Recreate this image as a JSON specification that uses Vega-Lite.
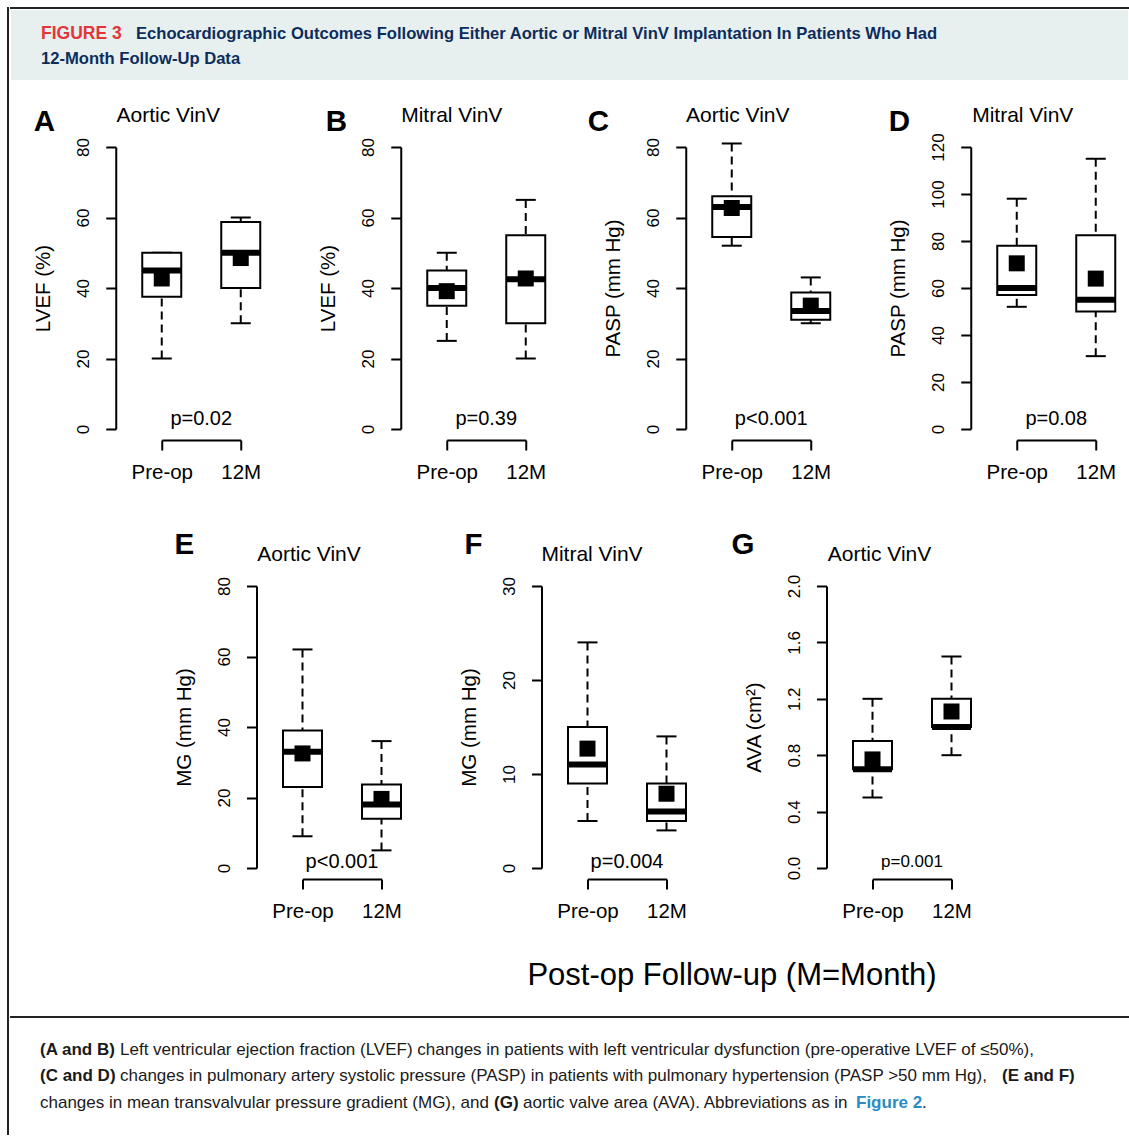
{
  "$schema": "https://vega.github.io/schema/vega-lite/v6.json",
  "padding": {"left": 7, "top": 7, "right": 0, "bottom": 0},
  "background": "white",
  "spacing": 0,
  "hconcat": [
    {"width": 0.001, "height": 1126, "data": {"values": []}, "mark": "point", "view": {"stroke": "#222", "strokeWidth": 2}},
    {
      "spacing": 0,
      "vconcat": [
        {"width": 1117, "height": 0.001, "data": {"values": []}, "mark": "point", "view": {"stroke": "#222", "strokeWidth": 2}},
        {
          "width": 1117, "height": 70,
          "view": {"fill": "#e8f0ef", "stroke": null},
          "data": {"values": [
            {"line": 1, "run": "fig", "text": "FIGURE 3"},
            {"line": 1, "run": "t1", "text": "Echocardiographic Outcomes Following Either Aortic or Mitral VinV Implantation In Patients Who Had"},
            {"line": 2, "run": "t2", "text": "12-Month Follow-Up Data"}
          ]},
          "encoding": {
            "x": {"datum": 0, "type": "quantitative", "scale": {"domain": [0, 1]}, "axis": null},
            "y": {"field": "line", "type": "ordinal", "scale": {"type": "point", "padding": 0.9}, "axis": null},
            "text": {"field": "text"}
          },
          "layer": [
            {"transform": [{"filter": "datum.run === 'fig'"}], "mark": {"type": "text", "align": "left", "baseline": "middle", "dx": 30, "dy": 1.5, "fontSize": 17.5, "fontWeight": "bold", "color": "#e2363a"}},
            {"transform": [{"filter": "datum.run === 't1'"}], "mark": {"type": "text", "align": "left", "baseline": "middle", "dx": 125, "dy": 1.5, "fontSize": 16.6, "fontWeight": "bold", "color": "#0c2d5c"}},
            {"transform": [{"filter": "datum.run === 't2'"}], "mark": {"type": "text", "align": "left", "baseline": "middle", "dx": 30, "dy": 1.5, "fontSize": 16.6, "fontWeight": "bold", "color": "#0c2d5c"}}
          ]
        },
        {"width": 0.001, "height": 25, "data": {"values": []}, "mark": "point"},
        {
          "spacing": 21.75,
          "hconcat": [
            {"width": 0.001, "height": 383, "data": {"values": []}, "mark": "point"},
            {
              "spacing": 206,
              "bounds": "flush",
              "hconcat": [
                {
                  "width": 79, "height": 282,
                  "data": {"values": [
                    {"time": "Pre-op", "lo": 20, "q1": 37.5, "med": 45, "q3": 50, "hi": 50, "mean": 42.7},
                    {"time": "12M", "lo": 30, "q1": 40, "med": 50, "q3": 58.7, "hi": 60, "mean": 48.5}
                  ]},
                  "encoding": {"x": {"field": "time", "type": "nominal", "scale": {"type": "point", "domain": ["Pre-op", "12M"], "padding": 0}, "axis": {"title": null}}},
                  "layer": [
                    {"mark": {"type": "rule", "strokeDash": [8, 5], "strokeWidth": 2, "color": "#000"}, "encoding": {"y": {"field": "hi", "type": "quantitative", "scale": {"domain": [0, 80], "nice": false, "zero": false}, "axis": {"title": "LVEF (%)", "values": [0, 20, 40, 60, 80]}}, "y2": {"field": "q3"}}},
                    {"mark": {"type": "rule", "strokeDash": [8, 5], "strokeWidth": 2, "color": "#000"}, "encoding": {"y": {"field": "lo", "type": "quantitative"}, "y2": {"field": "q1"}}},
                    {"mark": {"type": "tick", "orient": "horizontal", "size": 20, "thickness": 2, "color": "#000", "opacity": 1}, "encoding": {"y": {"field": "hi", "type": "quantitative"}}},
                    {"mark": {"type": "tick", "orient": "horizontal", "size": 20, "thickness": 2, "color": "#000", "opacity": 1}, "encoding": {"y": {"field": "lo", "type": "quantitative"}}},
                    {"mark": {"type": "bar", "width": 39, "fill": "#fff", "stroke": "#000", "strokeWidth": 2, "opacity": 1}, "encoding": {"y": {"field": "q1", "type": "quantitative"}, "y2": {"field": "q3"}}},
                    {"mark": {"type": "tick", "orient": "horizontal", "size": 39, "thickness": 6, "color": "#000", "opacity": 1}, "encoding": {"y": {"field": "med", "type": "quantitative"}}},
                    {"mark": {"type": "point", "shape": "square", "size": 256, "filled": true, "color": "#000", "opacity": 1}, "encoding": {"y": {"field": "mean", "type": "quantitative"}}},
                    {"data": {"values": [{"label": "Aortic VinV"}]}, "mark": {"type": "text", "fontSize": 21, "align": "center", "baseline": "alphabetic", "dx": 6.5, "dy": -25, "color": "#000"}, "encoding": {"text": {"field": "label"}, "x": {"datum": "Pre-op"}, "y": {"datum": 80}}},
                    {"data": {"values": [{"panel": "A"}]}, "mark": {"type": "text", "fontSize": 29.5, "fontWeight": "bold", "align": "left", "baseline": "alphabetic", "dx": -128, "dy": -16, "color": "#000"}, "encoding": {"text": {"field": "panel"}, "x": {"datum": "Pre-op"}, "y": {"datum": 80}}},
                    {"data": {"values": [{"p": "p=0.02"}]}, "mark": {"type": "text", "fontSize": 20, "align": "center", "baseline": "middle", "dx": 39.5, "dy": -10, "color": "#000"}, "encoding": {"text": {"field": "p"}, "x": {"datum": "Pre-op"}, "y": {"datum": 0}}}
                  ]
                },
                {
                  "width": 79, "height": 282,
                  "data": {"values": [
                    {"time": "Pre-op", "lo": 25, "q1": 35, "med": 40, "q3": 45, "hi": 50, "mean": 39.1},
                    {"time": "12M", "lo": 20, "q1": 30, "med": 42.5, "q3": 55, "hi": 65, "mean": 42.7}
                  ]},
                  "encoding": {"x": {"field": "time", "type": "nominal", "scale": {"type": "point", "domain": ["Pre-op", "12M"], "padding": 0}, "axis": {"title": null}}},
                  "layer": [
                    {"mark": {"type": "rule", "strokeDash": [8, 5], "strokeWidth": 2, "color": "#000"}, "encoding": {"y": {"field": "hi", "type": "quantitative", "scale": {"domain": [0, 80], "nice": false, "zero": false}, "axis": {"title": "LVEF (%)", "values": [0, 20, 40, 60, 80]}}, "y2": {"field": "q3"}}},
                    {"mark": {"type": "rule", "strokeDash": [8, 5], "strokeWidth": 2, "color": "#000"}, "encoding": {"y": {"field": "lo", "type": "quantitative"}, "y2": {"field": "q1"}}},
                    {"mark": {"type": "tick", "orient": "horizontal", "size": 20, "thickness": 2, "color": "#000", "opacity": 1}, "encoding": {"y": {"field": "hi", "type": "quantitative"}}},
                    {"mark": {"type": "tick", "orient": "horizontal", "size": 20, "thickness": 2, "color": "#000", "opacity": 1}, "encoding": {"y": {"field": "lo", "type": "quantitative"}}},
                    {"mark": {"type": "bar", "width": 39, "fill": "#fff", "stroke": "#000", "strokeWidth": 2, "opacity": 1}, "encoding": {"y": {"field": "q1", "type": "quantitative"}, "y2": {"field": "q3"}}},
                    {"mark": {"type": "tick", "orient": "horizontal", "size": 39, "thickness": 6, "color": "#000", "opacity": 1}, "encoding": {"y": {"field": "med", "type": "quantitative"}}},
                    {"mark": {"type": "point", "shape": "square", "size": 256, "filled": true, "color": "#000", "opacity": 1}, "encoding": {"y": {"field": "mean", "type": "quantitative"}}},
                    {"data": {"values": [{"label": "Mitral VinV"}]}, "mark": {"type": "text", "fontSize": 21, "align": "center", "baseline": "alphabetic", "dx": 5, "dy": -25, "color": "#000"}, "encoding": {"text": {"field": "label"}, "x": {"datum": "Pre-op"}, "y": {"datum": 80}}},
                    {"data": {"values": [{"panel": "B"}]}, "mark": {"type": "text", "fontSize": 29.5, "fontWeight": "bold", "align": "left", "baseline": "alphabetic", "dx": -121, "dy": -16, "color": "#000"}, "encoding": {"text": {"field": "panel"}, "x": {"datum": "Pre-op"}, "y": {"datum": 80}}},
                    {"data": {"values": [{"p": "p=0.39"}]}, "mark": {"type": "text", "fontSize": 20, "align": "center", "baseline": "middle", "dx": 39.5, "dy": -10, "color": "#000"}, "encoding": {"text": {"field": "p"}, "x": {"datum": "Pre-op"}, "y": {"datum": 0}}}
                  ]
                },
                {
                  "width": 79, "height": 282,
                  "data": {"values": [
                    {"time": "Pre-op", "lo": 52, "q1": 54.5, "med": 63, "q3": 66, "hi": 81, "mean": 62.7},
                    {"time": "12M", "lo": 30, "q1": 31, "med": 33.5, "q3": 38.7, "hi": 43, "mean": 35}
                  ]},
                  "encoding": {"x": {"field": "time", "type": "nominal", "scale": {"type": "point", "domain": ["Pre-op", "12M"], "padding": 0}, "axis": {"title": null}}},
                  "layer": [
                    {"mark": {"type": "rule", "strokeDash": [8, 5], "strokeWidth": 2, "color": "#000"}, "encoding": {"y": {"field": "hi", "type": "quantitative", "scale": {"domain": [0, 80], "nice": false, "zero": false}, "axis": {"title": "PASP (mm Hg)", "values": [0, 20, 40, 60, 80]}}, "y2": {"field": "q3"}}},
                    {"mark": {"type": "rule", "strokeDash": [8, 5], "strokeWidth": 2, "color": "#000"}, "encoding": {"y": {"field": "lo", "type": "quantitative"}, "y2": {"field": "q1"}}},
                    {"mark": {"type": "tick", "orient": "horizontal", "size": 20, "thickness": 2, "color": "#000", "opacity": 1}, "encoding": {"y": {"field": "hi", "type": "quantitative"}}},
                    {"mark": {"type": "tick", "orient": "horizontal", "size": 20, "thickness": 2, "color": "#000", "opacity": 1}, "encoding": {"y": {"field": "lo", "type": "quantitative"}}},
                    {"mark": {"type": "bar", "width": 39, "fill": "#fff", "stroke": "#000", "strokeWidth": 2, "opacity": 1}, "encoding": {"y": {"field": "q1", "type": "quantitative"}, "y2": {"field": "q3"}}},
                    {"mark": {"type": "tick", "orient": "horizontal", "size": 39, "thickness": 6, "color": "#000", "opacity": 1}, "encoding": {"y": {"field": "med", "type": "quantitative"}}},
                    {"mark": {"type": "point", "shape": "square", "size": 256, "filled": true, "color": "#000", "opacity": 1}, "encoding": {"y": {"field": "mean", "type": "quantitative"}}},
                    {"data": {"values": [{"label": "Aortic VinV"}]}, "mark": {"type": "text", "fontSize": 21, "align": "center", "baseline": "alphabetic", "dx": 6, "dy": -25, "color": "#000"}, "encoding": {"text": {"field": "label"}, "x": {"datum": "Pre-op"}, "y": {"datum": 80}}},
                    {"data": {"values": [{"panel": "C"}]}, "mark": {"type": "text", "fontSize": 29.5, "fontWeight": "bold", "align": "left", "baseline": "alphabetic", "dx": -144, "dy": -16, "color": "#000"}, "encoding": {"text": {"field": "panel"}, "x": {"datum": "Pre-op"}, "y": {"datum": 80}}},
                    {"data": {"values": [{"p": "p<0.001"}]}, "mark": {"type": "text", "fontSize": 20, "align": "center", "baseline": "middle", "dx": 39.5, "dy": -10, "color": "#000"}, "encoding": {"text": {"field": "p"}, "x": {"datum": "Pre-op"}, "y": {"datum": 0}}}
                  ]
                },
                {
                  "width": 79, "height": 282,
                  "data": {"values": [
                    {"time": "Pre-op", "lo": 52, "q1": 57, "med": 60, "q3": 78, "hi": 98, "mean": 70.5},
                    {"time": "12M", "lo": 31, "q1": 50, "med": 55, "q3": 82.5, "hi": 115, "mean": 64}
                  ]},
                  "encoding": {"x": {"field": "time", "type": "nominal", "scale": {"type": "point", "domain": ["Pre-op", "12M"], "padding": 0}, "axis": {"title": null}}},
                  "layer": [
                    {"mark": {"type": "rule", "strokeDash": [8, 5], "strokeWidth": 2, "color": "#000"}, "encoding": {"y": {"field": "hi", "type": "quantitative", "scale": {"domain": [0, 120], "nice": false, "zero": false}, "axis": {"title": "PASP (mm Hg)", "values": [0, 20, 40, 60, 80, 100, 120]}}, "y2": {"field": "q3"}}},
                    {"mark": {"type": "rule", "strokeDash": [8, 5], "strokeWidth": 2, "color": "#000"}, "encoding": {"y": {"field": "lo", "type": "quantitative"}, "y2": {"field": "q1"}}},
                    {"mark": {"type": "tick", "orient": "horizontal", "size": 20, "thickness": 2, "color": "#000", "opacity": 1}, "encoding": {"y": {"field": "hi", "type": "quantitative"}}},
                    {"mark": {"type": "tick", "orient": "horizontal", "size": 20, "thickness": 2, "color": "#000", "opacity": 1}, "encoding": {"y": {"field": "lo", "type": "quantitative"}}},
                    {"mark": {"type": "bar", "width": 39, "fill": "#fff", "stroke": "#000", "strokeWidth": 2, "opacity": 1}, "encoding": {"y": {"field": "q1", "type": "quantitative"}, "y2": {"field": "q3"}}},
                    {"mark": {"type": "tick", "orient": "horizontal", "size": 39, "thickness": 6, "color": "#000", "opacity": 1}, "encoding": {"y": {"field": "med", "type": "quantitative"}}},
                    {"mark": {"type": "point", "shape": "square", "size": 256, "filled": true, "color": "#000", "opacity": 1}, "encoding": {"y": {"field": "mean", "type": "quantitative"}}},
                    {"data": {"values": [{"label": "Mitral VinV"}]}, "mark": {"type": "text", "fontSize": 21, "align": "center", "baseline": "alphabetic", "dx": 6, "dy": -25, "color": "#000"}, "encoding": {"text": {"field": "label"}, "x": {"datum": "Pre-op"}, "y": {"datum": 120}}},
                    {"data": {"values": [{"panel": "D"}]}, "mark": {"type": "text", "fontSize": 29.5, "fontWeight": "bold", "align": "left", "baseline": "alphabetic", "dx": -128, "dy": -16, "color": "#000"}, "encoding": {"text": {"field": "panel"}, "x": {"datum": "Pre-op"}, "y": {"datum": 120}}},
                    {"data": {"values": [{"p": "p=0.08"}]}, "mark": {"type": "text", "fontSize": 20, "align": "center", "baseline": "middle", "dx": 39.5, "dy": -10, "color": "#000"}, "encoding": {"text": {"field": "p"}, "x": {"datum": "Pre-op"}, "y": {"datum": 0}}}
                  ]
                }
              ]
            }
          ]
        },
        {
          "spacing": 162.5,
          "hconcat": [
            {"width": 0.001, "height": 430, "data": {"values": []}, "mark": "point"},
            {
              "spacing": 206,
              "bounds": "flush",
              "hconcat": [
                {
                  "width": 79, "height": 282,
                  "data": {"values": [
                    {"time": "Pre-op", "lo": 9, "q1": 23, "med": 33, "q3": 39, "hi": 62, "mean": 32.5},
                    {"time": "12M", "lo": 5, "q1": 14, "med": 18, "q3": 23.7, "hi": 36, "mean": 19.6}
                  ]},
                  "encoding": {"x": {"field": "time", "type": "nominal", "scale": {"type": "point", "domain": ["Pre-op", "12M"], "padding": 0}, "axis": {"title": null}}},
                  "layer": [
                    {"mark": {"type": "rule", "strokeDash": [8, 5], "strokeWidth": 2, "color": "#000"}, "encoding": {"y": {"field": "hi", "type": "quantitative", "scale": {"domain": [0, 80], "nice": false, "zero": false}, "axis": {"title": "MG (mm Hg)", "values": [0, 20, 40, 60, 80]}}, "y2": {"field": "q3"}}},
                    {"mark": {"type": "rule", "strokeDash": [8, 5], "strokeWidth": 2, "color": "#000"}, "encoding": {"y": {"field": "lo", "type": "quantitative"}, "y2": {"field": "q1"}}},
                    {"mark": {"type": "tick", "orient": "horizontal", "size": 20, "thickness": 2, "color": "#000", "opacity": 1}, "encoding": {"y": {"field": "hi", "type": "quantitative"}}},
                    {"mark": {"type": "tick", "orient": "horizontal", "size": 20, "thickness": 2, "color": "#000", "opacity": 1}, "encoding": {"y": {"field": "lo", "type": "quantitative"}}},
                    {"mark": {"type": "bar", "width": 39, "fill": "#fff", "stroke": "#000", "strokeWidth": 2, "opacity": 1}, "encoding": {"y": {"field": "q1", "type": "quantitative"}, "y2": {"field": "q3"}}},
                    {"mark": {"type": "tick", "orient": "horizontal", "size": 39, "thickness": 6, "color": "#000", "opacity": 1}, "encoding": {"y": {"field": "med", "type": "quantitative"}}},
                    {"mark": {"type": "point", "shape": "square", "size": 256, "filled": true, "color": "#000", "opacity": 1}, "encoding": {"y": {"field": "mean", "type": "quantitative"}}},
                    {"data": {"values": [{"label": "Aortic VinV"}]}, "mark": {"type": "text", "fontSize": 21, "align": "center", "baseline": "alphabetic", "dx": 6.5, "dy": -25, "color": "#000"}, "encoding": {"text": {"field": "label"}, "x": {"datum": "Pre-op"}, "y": {"datum": 80}}},
                    {"data": {"values": [{"panel": "E"}]}, "mark": {"type": "text", "fontSize": 29.5, "fontWeight": "bold", "align": "left", "baseline": "alphabetic", "dx": -128, "dy": -32, "color": "#000"}, "encoding": {"text": {"field": "panel"}, "x": {"datum": "Pre-op"}, "y": {"datum": 80}}},
                    {"data": {"values": [{"p": "p<0.001"}]}, "mark": {"type": "text", "fontSize": 20, "align": "center", "baseline": "middle", "dx": 39.5, "dy": -6, "color": "#000"}, "encoding": {"text": {"field": "p"}, "x": {"datum": "Pre-op"}, "y": {"datum": 0}}}
                  ]
                },
                {
                  "width": 79, "height": 282,
                  "data": {"values": [
                    {"time": "Pre-op", "lo": 5, "q1": 9, "med": 11, "q3": 15, "hi": 24, "mean": 12.7},
                    {"time": "12M", "lo": 4, "q1": 5, "med": 6, "q3": 9, "hi": 14, "mean": 7.9}
                  ]},
                  "encoding": {"x": {"field": "time", "type": "nominal", "scale": {"type": "point", "domain": ["Pre-op", "12M"], "padding": 0}, "axis": {"title": "Post-op Follow-up (M=Month)", "titleFontSize": 31, "titleX": 144, "titlePadding": 39, "titleFontWeight": "normal", "titleAlign": "center"}}},
                  "layer": [
                    {"mark": {"type": "rule", "strokeDash": [8, 5], "strokeWidth": 2, "color": "#000"}, "encoding": {"y": {"field": "hi", "type": "quantitative", "scale": {"domain": [0, 30], "nice": false, "zero": false}, "axis": {"title": "MG (mm Hg)", "values": [0, 10, 20, 30]}}, "y2": {"field": "q3"}}},
                    {"mark": {"type": "rule", "strokeDash": [8, 5], "strokeWidth": 2, "color": "#000"}, "encoding": {"y": {"field": "lo", "type": "quantitative"}, "y2": {"field": "q1"}}},
                    {"mark": {"type": "tick", "orient": "horizontal", "size": 20, "thickness": 2, "color": "#000", "opacity": 1}, "encoding": {"y": {"field": "hi", "type": "quantitative"}}},
                    {"mark": {"type": "tick", "orient": "horizontal", "size": 20, "thickness": 2, "color": "#000", "opacity": 1}, "encoding": {"y": {"field": "lo", "type": "quantitative"}}},
                    {"mark": {"type": "bar", "width": 39, "fill": "#fff", "stroke": "#000", "strokeWidth": 2, "opacity": 1}, "encoding": {"y": {"field": "q1", "type": "quantitative"}, "y2": {"field": "q3"}}},
                    {"mark": {"type": "tick", "orient": "horizontal", "size": 39, "thickness": 6, "color": "#000", "opacity": 1}, "encoding": {"y": {"field": "med", "type": "quantitative"}}},
                    {"mark": {"type": "point", "shape": "square", "size": 256, "filled": true, "color": "#000", "opacity": 1}, "encoding": {"y": {"field": "mean", "type": "quantitative"}}},
                    {"data": {"values": [{"label": "Mitral VinV"}]}, "mark": {"type": "text", "fontSize": 21, "align": "center", "baseline": "alphabetic", "dx": 4.5, "dy": -25, "color": "#000"}, "encoding": {"text": {"field": "label"}, "x": {"datum": "Pre-op"}, "y": {"datum": 30}}},
                    {"data": {"values": [{"panel": "F"}]}, "mark": {"type": "text", "fontSize": 29.5, "fontWeight": "bold", "align": "left", "baseline": "alphabetic", "dx": -123, "dy": -32, "color": "#000"}, "encoding": {"text": {"field": "panel"}, "x": {"datum": "Pre-op"}, "y": {"datum": 30}}},
                    {"data": {"values": [{"p": "p=0.004"}]}, "mark": {"type": "text", "fontSize": 20, "align": "center", "baseline": "middle", "dx": 39.5, "dy": -6, "color": "#000"}, "encoding": {"text": {"field": "p"}, "x": {"datum": "Pre-op"}, "y": {"datum": 0}}}
                  ]
                },
                {
                  "width": 79, "height": 282,
                  "data": {"values": [
                    {"time": "Pre-op", "lo": 0.5, "q1": 0.7, "med": 0.7, "q3": 0.9, "hi": 1.2, "mean": 0.77},
                    {"time": "12M", "lo": 0.8, "q1": 1.0, "med": 1.0, "q3": 1.2, "hi": 1.5, "mean": 1.11}
                  ]},
                  "encoding": {"x": {"field": "time", "type": "nominal", "scale": {"type": "point", "domain": ["Pre-op", "12M"], "padding": 0}, "axis": {"title": null}}},
                  "layer": [
                    {"mark": {"type": "rule", "strokeDash": [8, 5], "strokeWidth": 2, "color": "#000"}, "encoding": {"y": {"field": "hi", "type": "quantitative", "scale": {"domain": [0, 2], "nice": false, "zero": false}, "axis": {"title": "AVA (cm²)", "values": [0, 0.4, 0.8, 1.2, 1.6, 2], "format": ".1f"}}, "y2": {"field": "q3"}}},
                    {"mark": {"type": "rule", "strokeDash": [8, 5], "strokeWidth": 2, "color": "#000"}, "encoding": {"y": {"field": "lo", "type": "quantitative"}, "y2": {"field": "q1"}}},
                    {"mark": {"type": "tick", "orient": "horizontal", "size": 20, "thickness": 2, "color": "#000", "opacity": 1}, "encoding": {"y": {"field": "hi", "type": "quantitative"}}},
                    {"mark": {"type": "tick", "orient": "horizontal", "size": 20, "thickness": 2, "color": "#000", "opacity": 1}, "encoding": {"y": {"field": "lo", "type": "quantitative"}}},
                    {"mark": {"type": "bar", "width": 39, "fill": "#fff", "stroke": "#000", "strokeWidth": 2, "opacity": 1}, "encoding": {"y": {"field": "q1", "type": "quantitative"}, "y2": {"field": "q3"}}},
                    {"mark": {"type": "tick", "orient": "horizontal", "size": 39, "thickness": 6, "color": "#000", "opacity": 1}, "encoding": {"y": {"field": "med", "type": "quantitative"}}},
                    {"mark": {"type": "point", "shape": "square", "size": 256, "filled": true, "color": "#000", "opacity": 1}, "encoding": {"y": {"field": "mean", "type": "quantitative"}}},
                    {"data": {"values": [{"label": "Aortic VinV"}]}, "mark": {"type": "text", "fontSize": 21, "align": "center", "baseline": "alphabetic", "dx": 7, "dy": -25, "color": "#000"}, "encoding": {"text": {"field": "label"}, "x": {"datum": "Pre-op"}, "y": {"datum": 2}}},
                    {"data": {"values": [{"panel": "G"}]}, "mark": {"type": "text", "fontSize": 29.5, "fontWeight": "bold", "align": "left", "baseline": "alphabetic", "dx": -141, "dy": -32, "color": "#000"}, "encoding": {"text": {"field": "panel"}, "x": {"datum": "Pre-op"}, "y": {"datum": 2}}},
                    {"data": {"values": [{"p": "p=0.001"}]}, "mark": {"type": "text", "fontSize": 17, "align": "center", "baseline": "middle", "dx": 39.5, "dy": -6, "color": "#000"}, "encoding": {"text": {"field": "p"}, "x": {"datum": "Pre-op"}, "y": {"datum": 0}}}
                  ]
                }
              ]
            }
          ]
        },
        {"width": 1117, "height": 0.001, "data": {"values": []}, "mark": "point", "view": {"stroke": "#222", "strokeWidth": 2}},
        {
          "width": 1117, "height": 106,
          "view": {"stroke": null},
          "data": {"values": [
            {"line": 1, "run": "b", "text": "(A and B)"},
            {"line": 1, "run": "n1", "text": "Left ventricular ejection fraction (LVEF) changes in patients with left ventricular dysfunction (pre-operative LVEF of ≤50%),"},
            {"line": 2, "run": "b", "text": "(C and D)"},
            {"line": 2, "run": "n1", "text": "changes in pulmonary artery systolic pressure (PASP) in patients with pulmonary hypertension (PASP >50 mm Hg),"},
            {"line": 2, "run": "b2", "text": "(E and F)"},
            {"line": 3, "run": "n0", "text": "changes in mean transvalvular pressure gradient (MG), and"},
            {"line": 3, "run": "b3", "text": "(G)"},
            {"line": 3, "run": "n3", "text": "aortic valve area (AVA). Abbreviations as in"},
            {"line": 3, "run": "link", "text": "Figure 2"},
            {"line": 3, "run": "n4", "text": "."}
          ]},
          "encoding": {
            "x": {"datum": 0, "type": "quantitative", "scale": {"domain": [0, 1]}, "axis": null},
            "y": {"field": "line", "type": "ordinal", "scale": {"type": "point", "padding": 1}, "axis": null},
            "text": {"field": "text"}
          },
          "layer": [
            {"transform": [{"filter": "datum.run === 'b'"}], "mark": {"type": "text", "align": "left", "baseline": "middle", "dx": 29, "dy": 4, "fontSize": 17, "fontWeight": "bold", "color": "#1a1a1a"}},
            {"transform": [{"filter": "datum.run === 'n1'"}], "mark": {"type": "text", "align": "left", "baseline": "middle", "dx": 109, "dy": 4, "fontSize": 17, "color": "#1a1a1a"}},
            {"transform": [{"filter": "datum.run === 'b2'"}], "mark": {"type": "text", "align": "left", "baseline": "middle", "dx": 991, "dy": 4, "fontSize": 17, "fontWeight": "bold", "color": "#1a1a1a"}},
            {"transform": [{"filter": "datum.run === 'n0'"}], "mark": {"type": "text", "align": "left", "baseline": "middle", "dx": 29, "dy": 4, "fontSize": 17, "color": "#1a1a1a"}},
            {"transform": [{"filter": "datum.run === 'b3'"}], "mark": {"type": "text", "align": "left", "baseline": "middle", "dx": 483, "dy": 4, "fontSize": 17, "fontWeight": "bold", "color": "#1a1a1a"}},
            {"transform": [{"filter": "datum.run === 'n3'"}], "mark": {"type": "text", "align": "left", "baseline": "middle", "dx": 512, "dy": 4, "fontSize": 17, "color": "#1a1a1a"}},
            {"transform": [{"filter": "datum.run === 'link'"}], "mark": {"type": "text", "align": "left", "baseline": "middle", "dx": 845, "dy": 4, "fontSize": 17, "fontWeight": "bold", "color": "#2b8cc4"}},
            {"transform": [{"filter": "datum.run === 'n4'"}], "mark": {"type": "text", "align": "left", "baseline": "middle", "dx": 911, "dy": 4, "fontSize": 17, "color": "#1a1a1a"}}
          ]
        }
      ]
    }
  ],
  "config": {
    "font": "Liberation Sans",
    "view": {"stroke": null},
    "axis": {"grid": false, "domainColor": "#000", "domainWidth": 2, "tickColor": "#000", "tickWidth": 2, "tickSize": 10, "labelColor": "#000", "titleColor": "#000", "titleFontWeight": "normal", "labelFont": "Liberation Sans", "titleFont": "Liberation Sans"},
    "axisY": {"offset": 46, "labelAngle": 270, "labelAlign": "center", "labelBaseline": "bottom", "labelFontSize": 17, "labelPadding": 13, "titleFontSize": 20.5, "titlePadding": 21, "labelOverlap": false},
    "axisX": {"offset": 11, "labelAngle": 0, "labelAlign": "center", "labelBaseline": "top", "labelFontSize": 20.5, "labelPadding": 12, "labelOverlap": false},
    "text": {"font": "Liberation Sans"}
  }
}
